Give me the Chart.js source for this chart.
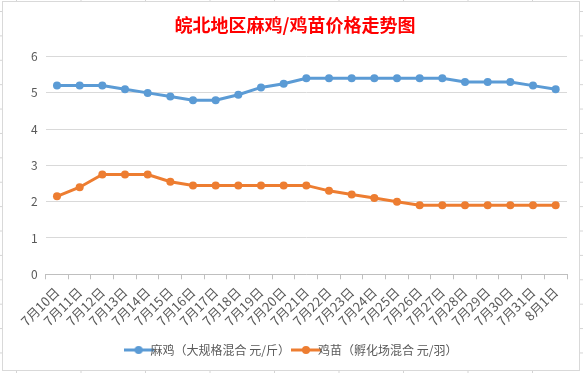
<!DOCTYPE html>
<html>
<head>
<meta charset="utf-8">
<script src="https://cdn.jsdelivr.net/npm/chart.js@4/dist/chart.umd.min.js"></script>
<style>
  html, body { margin: 0; padding: 0; }
  body {
    width: 583px; height: 373px; overflow: hidden; position: relative;
    background-color: #fff;
    background-image:
      linear-gradient(to right, #d4d4d4 1px, transparent 1px),
      linear-gradient(to bottom, #d4d4d4 1px, transparent 1px);
    background-size: 64.5px 24.4px;
    background-position: 16px 11px;
  }
  #box {
    position: absolute; left: 2px; top: 1px; width: 576px; height: 368px;
    border: 1px solid #d9d9d9; background: #fff;
  }
</style>
</head>
<body>
<div id="box"><canvas id="chart" width="576" height="368"></canvas></div>
<script>
// Dates on the x axis
const labels = ['7月10日', '7月11日', '7月12日', '7月13日', '7月14日', '7月15日', '7月16日', '7月17日',
  '7月18日', '7月19日', '7月20日', '7月21日', '7月22日', '7月23日', '7月24日', '7月25日', '7月26日',
  '7月27日', '7月28日', '7月29日', '7月30日', '7月31日', '8月1日'];

// 麻鸡 price (元/斤)
const maJi = [5.2, 5.2, 5.2, 5.1, 5.0, 4.9, 4.8, 4.8, 4.95, 5.15, 5.25, 5.4, 5.4, 5.4, 5.4, 5.4, 5.4,
  5.4, 5.3, 5.3, 5.3, 5.2, 5.1];

// 鸡苗 price (元/羽)
const jiMiao = [2.15, 2.4, 2.75, 2.75, 2.75, 2.55, 2.45, 2.45, 2.45, 2.45, 2.45, 2.45, 2.3, 2.2, 2.1,
  2.0, 1.9, 1.9, 1.9, 1.9, 1.9, 1.9, 1.9];

const seriesNames = ['麻鸡（大规格混合 元/斤）', '鸡苗（孵化场混合 元/羽）'];
const yTicks = [0, 1, 2, 3, 4, 5, 6];

const FONT = "'Noto Sans CJK SC', 'Noto Sans', sans-serif";
const BLUE = '#5b9bd5';
const ORANGE = '#ed7d31';

// small line-with-dot marker for the legend
const legendMarker = (color) => {
  const c = document.createElement('canvas');
  c.width = 30; c.height = 10;
  const g = c.getContext('2d');
  g.strokeStyle = color; g.lineWidth = 3;
  g.beginPath(); g.moveTo(0, 5); g.lineTo(30, 5); g.stroke();
  g.fillStyle = color;
  g.beginPath(); g.arc(15, 5, 4, 0, Math.PI * 2); g.fill();
  return c;
};

const makeSet = (label, data, color) => ({
  label, data,
  borderColor: color,
  backgroundColor: color,
  borderWidth: 3,
  pointRadius: 4,
  pointBackgroundColor: color,
  pointBorderWidth: 0,
  tension: 0
});

new Chart(document.getElementById('chart').getContext('2d'), {
  type: 'line',
  data: {
    labels,
    datasets: [makeSet(seriesNames[0], maJi, BLUE), makeSet(seriesNames[1], jiMiao, ORANGE)]
  },
  options: {
    responsive: false,
    animation: false,
    layout: { padding: { left: 20, right: 12, top: 6, bottom: 4 } },
    plugins: {
      title: {
        display: true,
        text: '皖北地区麻鸡/鸡苗价格走势图',
        color: '#ff0000',
        font: { family: FONT, size: 18, weight: 'bold' },
        padding: { top: 6, bottom: 21 }
      },
      legend: {
        position: 'bottom',
        labels: {
          color: '#595959',
          font: { family: FONT, size: 12 },
          usePointStyle: true,
          padding: 10,
          generateLabels: (chart) => chart.data.datasets.map((ds, i) => ({
            text: ds.label,
            fillStyle: ds.borderColor,
            strokeStyle: ds.borderColor,
            fontColor: '#595959',
            pointStyle: legendMarker(ds.borderColor),
            datasetIndex: i,
            hidden: false
          }))
        }
      },
      tooltip: { enabled: false }
    },
    scales: {
      x: {
        offset: true,
        grid: { offset: true, drawOnChartArea: false, drawTicks: true, tickLength: 5, color: '#bfbfbf' },
        border: { color: '#bfbfbf' },
        ticks: {
          color: '#595959',
          font: { family: FONT, size: 13 },
          maxRotation: 45, minRotation: 45,
          autoSkip: false,
          padding: 5
        }
      },
      y: {
        min: yTicks[0],
        max: yTicks[yTicks.length - 1],
        afterBuildTicks: (axis) => { axis.ticks = yTicks.map(v => ({ value: v })); },
        grid: { color: '#d9d9d9', drawTicks: false },
        border: { display: false },
        ticks: {
          color: '#595959',
          font: { family: FONT, size: 12 },
          padding: 8
        }
      }
    }
  }
});
</script>
</body>
</html>
